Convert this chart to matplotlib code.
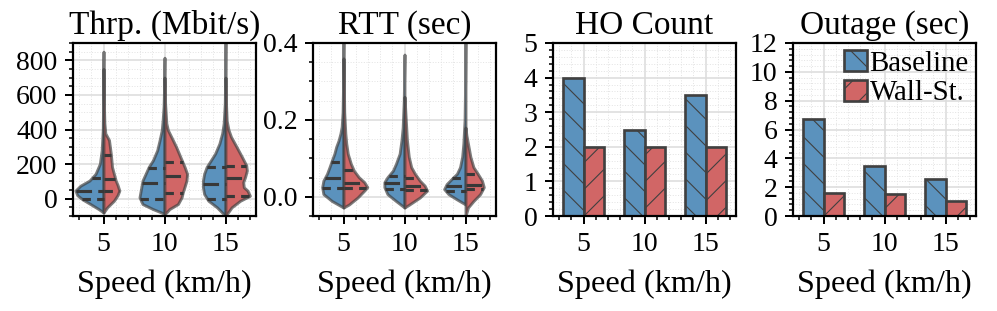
import matplotlib
matplotlib.use("Agg")
import matplotlib.pyplot as plt
from matplotlib.ticker import AutoMinorLocator, MultipleLocator
import numpy as np

# ---- data ----
speeds = ["5", "10", "15"]
series = ["Baseline", "Wall-St."]

ho_baseline = [4.0, 2.5, 3.5]
ho_wall = [2.0, 2.0, 2.0]
outage_baseline = [6.7, 3.45, 2.6]
outage_wall = [1.6, 1.5, 1.05]

# violin outlines: (value, half-width of density) per speed, per half
thrp_base_y = [
    [-80, -60, -30, -5, 20, 47, 75, 105, 144, 202, 280, 400, 600, 850],
    [-90, -80, -60, -31, 8, 47, 105, 144, 183, 222, 280, 339, 397, 455, 533, 650, 815],
    [-100, -50, -12, 27, 66, 105, 144, 183, 222, 261, 319, 378, 436, 550, 700, 920],
]
thrp_base_w = [
    [0, 0.08, 0.22, 0.34, 0.43, 0.46, 0.38, 0.23, 0.13, 0.06, 0.03, 0.012, 0.005, 0],
    [0, 0.05, 0.19, 0.36, 0.41, 0.39, 0.36, 0.31, 0.26, 0.19, 0.12, 0.08, 0.045, 0.03, 0.015, 0.006, 0],
    [0, 0.14, 0.28, 0.35, 0.37, 0.37, 0.35, 0.31, 0.24, 0.17, 0.10, 0.055, 0.03, 0.012, 0.005, 0],
]
thrp_wall_y = [
    [-80, -50, -12, 20, 47, 80, 105, 183, 260, 339, 378, 436, 550, 750],
    [-90, -80, -60, -31, 8, 37, 70, 105, 144, 183, 241, 300, 358, 397, 436, 550, 700],
    [-100, -50, -12, 17, 47, 66, 95, 124, 163, 193, 241, 300, 358, 397, 450, 550, 700],
]
thrp_wall_w = [
    [0, 0.06, 0.17, 0.23, 0.26, 0.23, 0.20, 0.14, 0.12, 0.09, 0.03, 0.015, 0.006, 0],
    [0, 0.03, 0.08, 0.22, 0.28, 0.30, 0.33, 0.36, 0.37, 0.33, 0.26, 0.19, 0.11, 0.055, 0.03, 0.01, 0],
    [0, 0.10, 0.24, 0.40, 0.36, 0.30, 0.29, 0.32, 0.35, 0.34, 0.27, 0.18, 0.09, 0.05, 0.02, 0.008, 0],
]
thrp_base_q = [[0, 45, 120], [0, 90, 175], [0, 85, 185]]
thrp_wall_q = [[45, 115, 250], [35, 130, 210], [15, 120, 190]]

rtt_base_y = [
    [-0.028, -0.011, 0.007, 0.025, 0.042, 0.06, 0.077, 0.095, 0.112, 0.13, 0.147, 0.165, 0.182, 0.22, 0.3, 0.42],
    [-0.028, -0.011, 0.007, 0.025, 0.038, 0.051, 0.068, 0.086, 0.112, 0.147, 0.18, 0.25, 0.37],
    [-0.02, -0.007, 0.007, 0.02, 0.033, 0.046, 0.06, 0.077, 0.104, 0.139, 0.2, 0.3, 0.42],
]
rtt_base_w = [
    [0, 0.19, 0.33, 0.35, 0.33, 0.27, 0.23, 0.19, 0.15, 0.12, 0.08, 0.05, 0.03, 0.015, 0.006, 0],
    [0, 0.14, 0.28, 0.33, 0.33, 0.28, 0.19, 0.14, 0.08, 0.05, 0.03, 0.012, 0],
    [0, 0.14, 0.28, 0.35, 0.31, 0.23, 0.14, 0.09, 0.055, 0.035, 0.015, 0.006, 0],
]
rtt_wall_y = [
    [-0.028, -0.02, -0.002, 0.016, 0.025, 0.038, 0.051, 0.068, 0.086, 0.112, 0.139, 0.165, 0.22, 0.36],
    [-0.028, -0.02, -0.002, 0.016, 0.029, 0.042, 0.06, 0.077, 0.104, 0.147, 0.26],
    [-0.05, -0.028, -0.011, 0.007, 0.025, 0.042, 0.06, 0.077, 0.104, 0.13, 0.16, 0.18],
]
rtt_wall_w = [
    [0, 0.09, 0.23, 0.34, 0.39, 0.34, 0.25, 0.17, 0.12, 0.07, 0.045, 0.03, 0.012, 0],
    [0, 0.08, 0.25, 0.37, 0.33, 0.25, 0.17, 0.11, 0.07, 0.04, 0],
    [0, 0.04, 0.13, 0.24, 0.30, 0.27, 0.20, 0.13, 0.08, 0.05, 0.015, 0],
]
rtt_base_q = [[0.022, 0.048, 0.09], [0.02, 0.035, 0.055], [0.015, 0.028, 0.048]]
rtt_wall_q = [[0.022, 0.036, 0.07], [0.018, 0.028, 0.048], [0.02, 0.03, 0.058]]

# ---- style ----
BLUE = "#5b92bd"
RED = "#d16666"
EDGE = (0.25, 0.25, 0.25, 0.68)
QCOL = "#383838"
BAR_EDGE = "#404040"

plt.rcParams.update({
    "font.family": ["Liberation Serif", "DejaVu Serif"],
    "font.size": 25,
    "axes.linewidth": 2.0,
    "hatch.linewidth": 1.0,
})

fig = plt.figure(figsize=(997 / 80, 311 / 80), dpi=80)
lefts = [73, 313, 553, 793]
axes = [fig.add_axes([l / 997, 1 - 216 / 311, 183 / 997, 173 / 311]) for l in lefts]


def half_violin(ax, pos, ys, ws, quarts, side, color):
    ys = np.asarray(ys, float)
    ws = np.asarray(ws, float)
    if side < 0:
        ax.fill_betweenx(ys, pos - ws, pos, facecolor=color, edgecolor=EDGE, lw=2.6, zorder=2)
    else:
        ax.fill_betweenx(ys, pos, pos + ws, facecolor=color, edgecolor=EDGE, lw=2.6, zorder=2)
    for q, dash in zip(quarts, [(2.7, 2.0), (5.0, 2.0), (2.7, 2.0)]):
        w = np.interp(q, ys, ws)
        x0, x1 = (pos - w, pos) if side < 0 else (pos, pos + w)
        ax.plot([x0, x1], [q, q], color=QCOL, lw=2.8, dashes=dash,
                solid_capstyle="butt", dash_capstyle="butt", zorder=3)


def style(ax, title):
    ax.set_title(title, pad=8)
    ax.set_xlabel("Speed (km/h)", fontsize=29, labelpad=12)
    ax.set_xticks(range(len(speeds)))
    ax.set_xticklabels(speeds)
    ax.set_xlim(-0.5, 2.5)
    ax.xaxis.set_minor_locator(AutoMinorLocator(5))
    ax.tick_params(which="major", direction="out", length=7, width=1.8, pad=7)
    ax.tick_params(which="minor", direction="out", length=3.5, width=1.4)
    ax.set_axisbelow(True)
    ax.grid(which="major", color="#dcdcdc", lw=1.4)
    ax.grid(which="minor", color="#e4e4e4", lw=0.9, ls=":")


# throughput
ax = axes[0]
for i in range(len(speeds)):
    half_violin(ax, i, thrp_base_y[i], thrp_base_w[i], thrp_base_q[i], -1, BLUE)
    half_violin(ax, i, thrp_wall_y[i], thrp_wall_w[i], thrp_wall_q[i], 1, RED)
ax.set_ylim(-100, 900)
ax.yaxis.set_major_locator(MultipleLocator(200))
ax.yaxis.set_minor_locator(AutoMinorLocator(4))
style(ax, "Thrp. (Mbit/s)")

# RTT
ax = axes[1]
for i in range(len(speeds)):
    half_violin(ax, i, rtt_base_y[i], rtt_base_w[i], rtt_base_q[i], -1, BLUE)
    half_violin(ax, i, rtt_wall_y[i], rtt_wall_w[i], rtt_wall_q[i], 1, RED)
ax.set_ylim(-0.05, 0.4)
ax.yaxis.set_major_locator(MultipleLocator(0.2))
ax.yaxis.set_minor_locator(AutoMinorLocator(4))
style(ax, "RTT (sec)")

# bars
bw = 0.34
x = np.arange(len(speeds))
for ax, base, wall, title, top, step in [
    (axes[2], ho_baseline, ho_wall, "HO Count", 5, 1),
    (axes[3], outage_baseline, outage_wall, "Outage (sec)", 12, 2),
]:
    ax.bar(x - bw / 2, base, bw, color=BLUE, edgecolor=BAR_EDGE, lw=2.4,
           hatch="\\", label=series[0], zorder=2)
    ax.bar(x + bw / 2, wall, bw, color=RED, edgecolor=BAR_EDGE, lw=2.4,
           hatch="/", label=series[1], zorder=2)
    ax.set_ylim(0, top)
    ax.yaxis.set_major_locator(MultipleLocator(step))
    ax.yaxis.set_minor_locator(AutoMinorLocator(5))
    style(ax, title)

axes[3].legend(loc="upper right", frameon=False, fontsize=26, handlelength=0.8,
               handleheight=0.75, handletextpad=0.1, labelspacing=0.1,
               borderaxespad=0.1, borderpad=0.15)

fig.savefig("out.png", dpi=80)
